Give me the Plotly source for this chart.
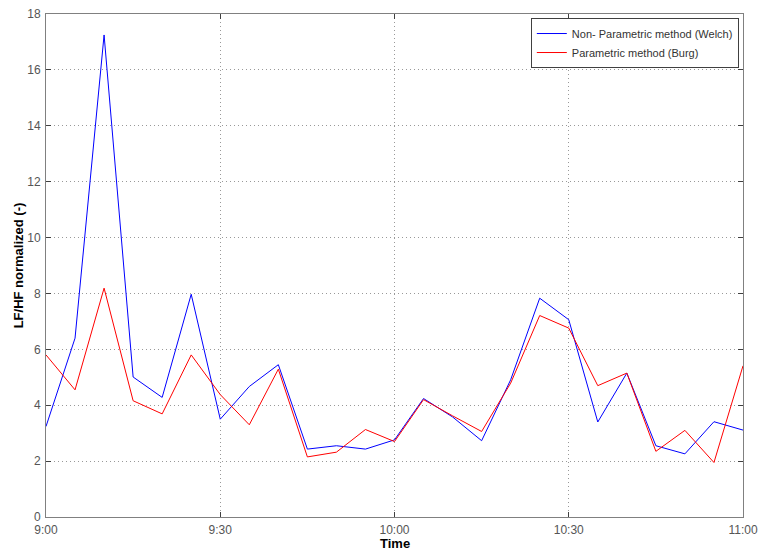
import plotly.graph_objects as go
import pandas as pd

times = pd.date_range("2000-01-01 09:00", "2000-01-01 11:00", freq="5min")
welch = [3.24, 6.40, 17.25, 5.01, 4.28, 7.97, 3.50, 4.67, 5.45, 2.43, 2.55, 2.43, 2.76,
         4.24, 3.58, 2.73, 4.91, 7.83, 7.06, 3.40, 5.15, 2.55, 2.26, 3.41, 3.11]
burg = [5.80, 4.55, 8.19, 4.16, 3.69, 5.80, 4.38, 3.30, 5.29, 2.15, 2.32, 3.13, 2.70,
        4.20, 3.62, 3.06, 4.79, 7.21, 6.76, 4.70, 5.15, 2.35, 3.10, 1.95, 5.41]
tick_vals = pd.date_range("2000-01-01 09:00", "2000-01-01 11:00", freq="30min")
tick_text = ["9:00", "9:30", "10:00", "10:30", "11:00"]
y_ticks = [0, 2, 4, 6, 8, 10, 12, 14, 16, 18]

fig = go.Figure()
fig.add_trace(go.Scatter(x=times, y=welch, mode="lines", name="Non- Parametric method (Welch)",
                         line=dict(color="#0000ff", width=1)))
fig.add_trace(go.Scatter(x=times, y=burg, mode="lines", name="Parametric method (Burg)",
                         line=dict(color="#ff0000", width=1)))

axis_common = dict(
    showline=True, linecolor="#808080", linewidth=1, mirror="allticks",
    ticks="inside", ticklen=5, tickcolor="#404040",
    showgrid=True, gridcolor="#999999", griddash="1px,3px", gridwidth=1,
    zeroline=False, automargin=False,
    tickfont=dict(family="Arial, Liberation Sans", size=12, color="#555555"),
)

fig.update_layout(
    width=759, height=552,
    margin=dict(l=46, r=16, t=14, b=35, autoexpand=False),
    plot_bgcolor="white", paper_bgcolor="white",
    font=dict(family="Arial, Liberation Sans", color="#000000"),
    xaxis=dict(range=[times[0], times[-1]], tickvals=tick_vals, ticktext=tick_text,
               ticklabelstandoff=2, **axis_common),
    yaxis=dict(range=[0, 18], tickvals=y_ticks, ticklabelstandoff=2,
               title=dict(text="<b>LF/HF normalized (-)</b>", font=dict(size=13), standoff=0),
               **axis_common),
    legend=dict(x=0.994, y=0.992, xanchor="right", yanchor="top",
                bgcolor="white", bordercolor="#404040", borderwidth=1,
                font=dict(size=11, color="#333333"), tracegroupgap=0,
                itemwidth=30),
    showlegend=True,
    annotations=[dict(text="<b>Time</b>", xref="paper", yref="paper", x=0.5, y=-0.053,
                      xanchor="center", yanchor="middle", showarrow=False,
                      font=dict(size=13, color="#000000"))],
)

fig.write_html("out.html")
